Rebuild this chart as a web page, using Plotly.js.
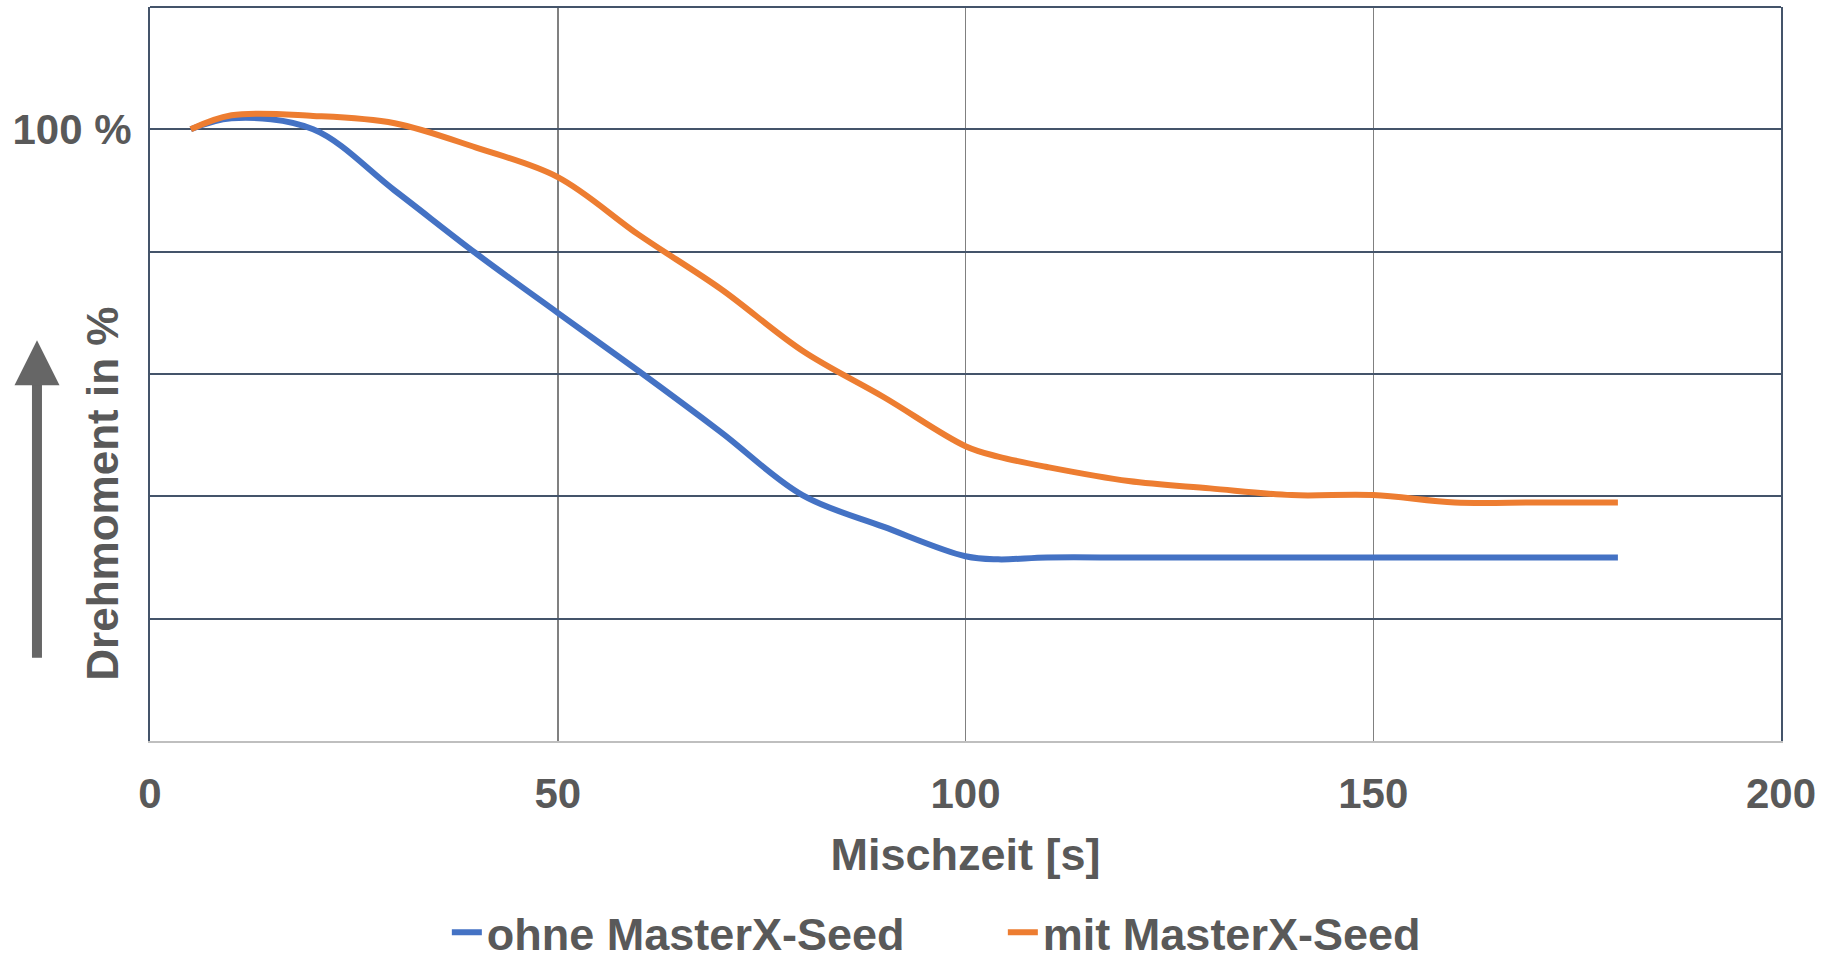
<!DOCTYPE html>
<html>
<head>
<meta charset="utf-8">
<script src="https://cdn.plot.ly/plotly-3.0.1.min.js"></script>
<style>html,body{margin:0;padding:0;background:#fff;}#chart{width:1823px;height:959px;}</style>
</head>
<body>
<div id="chart"></div>
<script>
// Mixing time [s]
const mischzeit = [5, 10, 20, 30, 40, 50, 60, 70, 80, 90, 100, 104, 110, 120, 130, 140, 150, 160, 170, 180];
// Torque in % without MasterX-Seed
const ohneSeed = [100, 101.8, 100.0, 90.0, 79.7, 70.0, 60.4, 50.5, 40.2, 35.0, 30.2, 29.7, 30.0, 30.0, 30.0, 30.0, 30.0, 30.0, 30.0, 30.0];
// Torque in % with MasterX-Seed
const mitSeed = [100, 102.3, 102.2, 101.0, 97.0, 92.2, 82.7, 73.9, 63.8, 56.2, 48.2, 46.5, 44.8, 42.5, 41.3, 40.2, 40.2, 39.0, 39.0, 39.0];
const seriesNames = ['ohne MasterX-Seed', 'mit MasterX-Seed'];
const yTickVals = [0, 20, 40, 60, 80, 100, 120];
const yTickText = ['', '', '', '', '', '100 %', ''];
const xTickVals = [0, 50, 100, 150, 200];

const font = 'Liberation Sans, Arial, sans-serif';
const gray = '#595959';

const traces = [
  {x: mischzeit, y: ohneSeed, name: seriesNames[0], mode: 'lines',
   line: {color: '#4472C4', width: 6, shape: 'spline'}},
  {x: mischzeit, y: mitSeed, name: seriesNames[1], mode: 'lines',
   line: {color: '#ED7D31', width: 6, shape: 'spline'}}
];

const layout = {
  width: 1823, height: 959,
  margin: {l: 150, r: 42, t: 7, b: 218, autoexpand: false},
  paper_bgcolor: '#fff', plot_bgcolor: '#fff',
  font: {family: font, color: gray},
  showlegend: true,
  legend: {orientation: 'h', x: 0.182, xanchor: 'left', y: -0.212, yanchor: 'top',
           font: {family: font, size: 45, color: gray, weight: 'bold'},
           entrywidth: 511, entrywidthmode: 'pixels', traceorder: 'normal'},
  xaxis: {range: [0, 200], tickvals: xTickVals, showgrid: true, gridcolor: '#808080', gridwidth: 1.5,
          showline: true, linecolor: '#BFBFBF', linewidth: 2, zeroline: false, ticks: '',
          ticklabelstandoff: 15, automargin: false,
          tickfont: {family: font, size: 42, color: gray, weight: 'bold'},
          title: {text: 'Mischzeit [s]', standoff: 22, font: {family: font, size: 45, color: gray, weight: 'bold'}}},
  yaxis: {range: [0, 120], tickvals: yTickVals, ticktext: yTickText, showgrid: true, gridcolor: '#44546A', gridwidth: 2,
          showline: true, mirror: true, linecolor: '#44546A', linewidth: 2, zeroline: false, ticks: '',
          ticklabelstandoff: 8, automargin: false,
          tickfont: {family: font, size: 42, color: gray, weight: 'bold'}},
  shapes: [
    {type: 'line', xref: 'paper', yref: 'paper', x0: 0, x1: 1, y0: 1, y1: 1, line: {color: '#44546A', width: 2}}
  ],
  annotations: [
    {xref: 'paper', yref: 'paper', x: -0.0288, y: 0.337, xanchor: 'center', yanchor: 'middle',
     text: 'Drehmoment in %', textangle: -90,
     showarrow: false, font: {family: font, size: 44, color: gray, weight: 'bold'}},
    {xref: 'paper', yref: 'paper', x: -0.0693, y: 0.546, ax: 0, ay: 319, axref: 'pixel', ayref: 'pixel',
     text: '', showarrow: true, arrowhead: 2, arrowsize: 0.9, arrowwidth: 10, arrowcolor: '#666666'}
  ]
};

Plotly.newPlot('chart', traces, layout, {displayModeBar: false, staticPlot: true});
</script>
</body>
</html>
